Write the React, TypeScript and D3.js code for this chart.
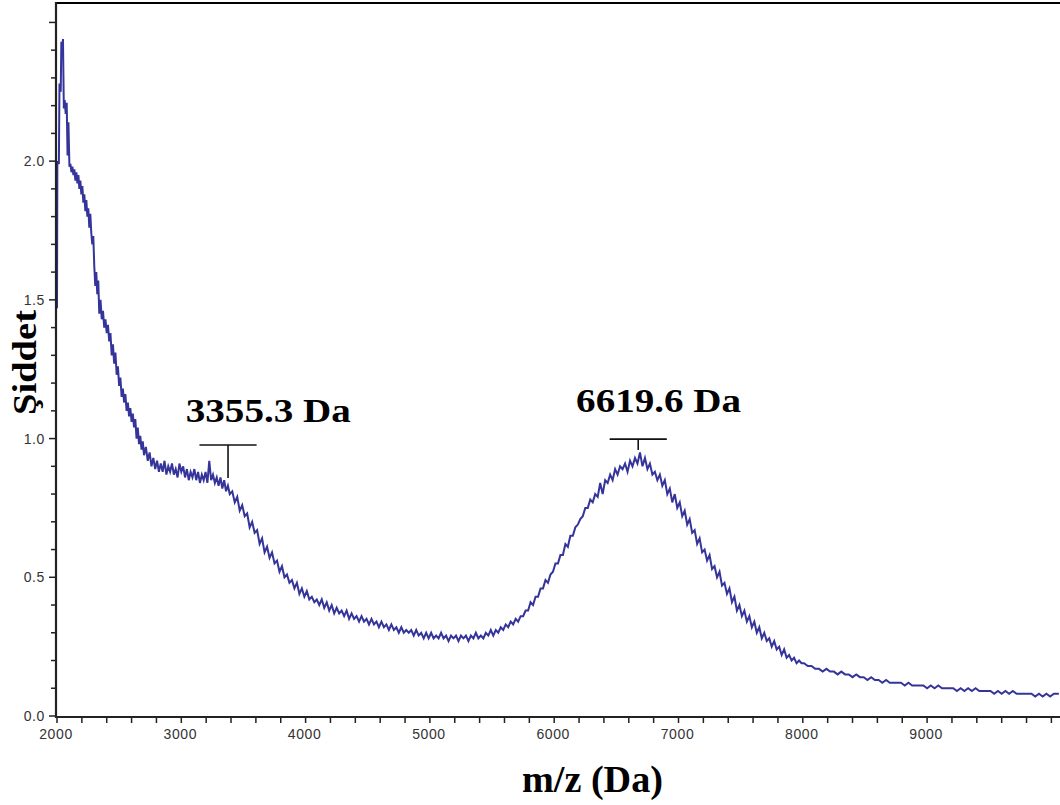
import React from "react";
import * as d3 from "d3";

// m/z (Da), intensity pairs
const spectrum: [number, number][] = [
  [2000, 1.47], [2003, 2.0], [2015, 1.99], [2020, 2.28], [2030, 2.25], [2035, 2.43], [2042, 2.4], [2048, 2.44],
  [2055, 2.19], [2062, 2.22], [2070, 2.17], [2078, 2.21], [2085, 2.02], [2092, 2.14], [2100, 1.98], [2108, 1.99],
  [2116, 1.96], [2124, 1.98], [2132, 1.95], [2140, 1.97], [2148, 1.93], [2156, 1.96], [2164, 1.92], [2172, 1.95],
  [2180, 1.9], [2188, 1.93], [2196, 1.88], [2204, 1.91], [2212, 1.85], [2220, 1.88], [2228, 1.82], [2236, 1.86],
  [2244, 1.8], [2252, 1.83], [2260, 1.76], [2268, 1.81], [2276, 1.74], [2284, 1.7], [2292, 1.73], [2300, 1.62],
  [2308, 1.55], [2316, 1.6], [2324, 1.52], [2332, 1.57], [2340, 1.45], [2350, 1.5], [2360, 1.43], [2370, 1.46],
  [2380, 1.4], [2390, 1.43], [2400, 1.38], [2410, 1.41], [2420, 1.35], [2430, 1.38], [2440, 1.3], [2450, 1.34],
  [2460, 1.27], [2470, 1.31], [2480, 1.23], [2490, 1.26], [2500, 1.19], [2510, 1.22], [2520, 1.15], [2530, 1.18],
  [2540, 1.13], [2550, 1.16], [2560, 1.1], [2570, 1.13], [2580, 1.08], [2590, 1.11], [2600, 1.06], [2610, 1.09],
  [2620, 1.04], [2630, 1.07], [2640, 1.0], [2650, 1.04], [2660, 0.98], [2670, 1.01], [2680, 0.96], [2690, 0.99],
  [2700, 0.94], [2715, 0.97], [2730, 0.92], [2745, 0.95], [2760, 0.9], [2775, 0.93], [2790, 0.89], [2805, 0.92],
  [2820, 0.88], [2835, 0.91], [2850, 0.88], [2865, 0.92], [2880, 0.87], [2895, 0.9], [2910, 0.88], [2925, 0.91],
  [2940, 0.87], [2955, 0.89], [2970, 0.86], [2985, 0.91], [3000, 0.88], [3015, 0.9], [3030, 0.86], [3045, 0.89],
  [3060, 0.85], [3075, 0.88], [3090, 0.86], [3105, 0.89], [3120, 0.85], [3135, 0.88], [3150, 0.84], [3165, 0.87],
  [3180, 0.85], [3195, 0.88], [3210, 0.84], [3225, 0.92], [3240, 0.85], [3255, 0.87], [3270, 0.84], [3285, 0.86],
  [3300, 0.83], [3315, 0.86], [3330, 0.82], [3345, 0.85], [3360, 0.81], [3375, 0.83], [3390, 0.8], [3410, 0.81],
  [3430, 0.77], [3450, 0.79], [3470, 0.74], [3490, 0.76], [3510, 0.72], [3530, 0.73], [3550, 0.68], [3570, 0.7],
  [3590, 0.66], [3610, 0.67], [3630, 0.62], [3650, 0.64], [3670, 0.59], [3690, 0.61], [3710, 0.57], [3730, 0.59],
  [3750, 0.55], [3770, 0.56], [3790, 0.52], [3810, 0.54], [3830, 0.5], [3850, 0.51], [3870, 0.48], [3890, 0.49],
  [3910, 0.46], [3930, 0.48], [3950, 0.44], [3970, 0.46], [3990, 0.43], [4010, 0.45], [4030, 0.42], [4050, 0.43],
  [4070, 0.41], [4090, 0.42], [4110, 0.4], [4130, 0.42], [4150, 0.39], [4170, 0.41], [4190, 0.38], [4210, 0.4],
  [4230, 0.37], [4250, 0.39], [4270, 0.37], [4290, 0.38], [4310, 0.36], [4330, 0.38], [4350, 0.35], [4370, 0.37],
  [4390, 0.35], [4410, 0.36], [4430, 0.34], [4450, 0.36], [4470, 0.34], [4490, 0.35], [4510, 0.33], [4530, 0.35],
  [4550, 0.33], [4570, 0.34], [4590, 0.32], [4610, 0.34], [4630, 0.32], [4650, 0.33], [4670, 0.31], [4690, 0.33],
  [4710, 0.31], [4730, 0.32], [4750, 0.3], [4770, 0.32], [4790, 0.3], [4810, 0.31], [4830, 0.3], [4850, 0.31],
  [4870, 0.29], [4890, 0.31], [4910, 0.29], [4930, 0.3], [4950, 0.28], [4970, 0.3], [4990, 0.28], [5010, 0.3],
  [5030, 0.28], [5050, 0.29], [5070, 0.28], [5090, 0.3], [5110, 0.28], [5130, 0.29], [5150, 0.27], [5170, 0.29],
  [5190, 0.28], [5210, 0.29], [5230, 0.27], [5250, 0.29], [5270, 0.28], [5290, 0.29], [5310, 0.27], [5330, 0.29],
  [5350, 0.28], [5370, 0.3], [5390, 0.28], [5410, 0.29], [5430, 0.28], [5450, 0.3], [5470, 0.29], [5490, 0.31],
  [5510, 0.29], [5530, 0.31], [5550, 0.3], [5570, 0.32], [5590, 0.31], [5610, 0.33], [5630, 0.32], [5650, 0.34],
  [5670, 0.33], [5690, 0.35], [5710, 0.34], [5730, 0.36], [5750, 0.36], [5770, 0.38], [5790, 0.38], [5810, 0.41],
  [5830, 0.4], [5850, 0.43], [5870, 0.43], [5890, 0.46], [5910, 0.46], [5930, 0.49], [5950, 0.48], [5970, 0.51],
  [5990, 0.52], [6010, 0.55], [6030, 0.55], [6050, 0.58], [6070, 0.58], [6090, 0.62], [6110, 0.61], [6130, 0.65],
  [6150, 0.65], [6170, 0.68], [6190, 0.69], [6210, 0.71], [6230, 0.72], [6250, 0.75], [6270, 0.75], [6290, 0.78],
  [6310, 0.77], [6330, 0.8], [6350, 0.79], [6370, 0.84], [6390, 0.8], [6410, 0.85], [6430, 0.84], [6450, 0.87],
  [6470, 0.85], [6490, 0.89], [6510, 0.87], [6530, 0.9], [6550, 0.89], [6570, 0.91], [6590, 0.88], [6610, 0.92],
  [6630, 0.9], [6650, 0.93], [6670, 0.91], [6690, 0.95], [6710, 0.9], [6730, 0.93], [6750, 0.89], [6770, 0.91],
  [6790, 0.87], [6810, 0.88], [6830, 0.85], [6850, 0.87], [6870, 0.83], [6890, 0.85], [6910, 0.8], [6930, 0.82],
  [6950, 0.77], [6970, 0.8], [6990, 0.75], [7010, 0.77], [7030, 0.72], [7050, 0.74], [7070, 0.69], [7090, 0.71],
  [7110, 0.66], [7130, 0.67], [7150, 0.62], [7170, 0.64], [7190, 0.59], [7210, 0.6], [7230, 0.56], [7250, 0.58],
  [7270, 0.53], [7290, 0.54], [7310, 0.5], [7330, 0.52], [7350, 0.47], [7370, 0.48], [7390, 0.44], [7410, 0.46],
  [7430, 0.41], [7450, 0.43], [7470, 0.38], [7490, 0.4], [7510, 0.36], [7530, 0.38], [7550, 0.34], [7570, 0.36],
  [7590, 0.32], [7610, 0.34], [7630, 0.3], [7650, 0.32], [7670, 0.28], [7690, 0.3], [7710, 0.27], [7730, 0.28],
  [7750, 0.25], [7770, 0.27], [7790, 0.24], [7810, 0.25], [7830, 0.22], [7850, 0.24], [7870, 0.21], [7890, 0.22],
  [7910, 0.2], [7930, 0.21], [7950, 0.19], [7970, 0.2], [7990, 0.19], [8010, 0.19], [8040, 0.18], [8070, 0.18],
  [8100, 0.17], [8130, 0.17], [8160, 0.16], [8190, 0.17], [8220, 0.16], [8250, 0.16], [8280, 0.15], [8310, 0.16],
  [8340, 0.15], [8370, 0.15], [8400, 0.14], [8430, 0.15], [8460, 0.14], [8490, 0.14], [8520, 0.13], [8550, 0.14],
  [8580, 0.13], [8610, 0.13], [8640, 0.12], [8670, 0.13], [8700, 0.12], [8730, 0.12], [8760, 0.12], [8790, 0.12],
  [8820, 0.11], [8850, 0.12], [8880, 0.11], [8910, 0.11], [8940, 0.11], [8970, 0.11], [9000, 0.1], [9030, 0.11],
  [9060, 0.1], [9090, 0.11], [9120, 0.1], [9150, 0.1], [9180, 0.1], [9210, 0.1], [9240, 0.09], [9270, 0.1],
  [9300, 0.09], [9330, 0.1], [9360, 0.09], [9390, 0.1], [9420, 0.09], [9450, 0.09], [9480, 0.09], [9510, 0.09],
  [9540, 0.08], [9570, 0.09], [9600, 0.08], [9630, 0.09], [9660, 0.08], [9690, 0.09], [9720, 0.08], [9750, 0.08],
  [9780, 0.08], [9810, 0.08], [9840, 0.08], [9870, 0.07], [9900, 0.08], [9930, 0.07], [9960, 0.08], [9990, 0.07],
  [10020, 0.08], [10060, 0.08],
];

const xTickValues = [2000, 3000, 4000, 5000, 6000, 7000, 8000, 9000];
const xTickLabels = ["2000", "3000", "4000", "5000", "6000", "7000", "8000", "9000"];
const yTickValues = [0, 0.5, 1.0, 1.5, 2.0];
const yTickLabels = ["0.0", "0.5", "1.0", "1.5", "2.0"];

// peak annotations (data units)
const peakLabels = ["3355.3 Da", "6619.6 Da"];
const markerMz = [3376, 6676];
const markerTop = [0.977, 0.998];
const markerBottom = [0.858, 0.959];
const labelMz = [3700, 6840];
const labelBase = [1.058, 1.094];

const xTitle = "m/z (Da)";
const yTitle = "Şiddet";

export default function App() {
  const W = 1060;
  const H = 805;
  const x = d3.scaleLinear().domain([2000, 10070]).range([57, 1060.1]);
  const y = d3.scaleLinear().domain([0, 2.57]).range([716, 3]);
  const line = d3
    .line<[number, number]>()
    .x((d) => x(d[0]))
    .y((d) => y(d[1]));

  const xMinor = d3.range(2000, 10001, 200);
  const yMinor = d3.range(0, 26).map((i) => i / 10);
  const halfW = 230;
  const serif = "'Liberation Serif', 'Times New Roman', serif";
  const sans = "'Liberation Sans', Arial, sans-serif";

  return (
    <svg
      width={W}
      height={H}
      style={{ position: "absolute", left: 0, top: 0, background: "#fff" }}
    >
      <defs>
        <clipPath id="plotclip">
          <rect x={57} y={3} width={1010} height={714} />
        </clipPath>
      </defs>
      <path
        d={line(spectrum) || ""}
        fill="none"
        stroke="#34349a"
        strokeWidth={2}
        strokeLinejoin="miter"
        clipPath="url(#plotclip)"
      />
      {/* frame */}
      <line x1={56} y1={3} x2={1070} y2={3} stroke="#000" strokeWidth={2.2} />
      <line x1={56} y1={2} x2={56} y2={718} stroke="#222" strokeWidth={2.2} />
      <line x1={55} y1={717} x2={1070} y2={717} stroke="#222" strokeWidth={2.2} />
      {/* x ticks */}
      {xMinor.map((v) => (
        <line key={"xm" + v} x1={x(v)} x2={x(v)} y1={717} y2={723} stroke="#222" strokeWidth={1.5} />
      ))}
      {xTickValues.map((v, i) => (
        <text
          key={"xl" + v}
          x={x(v) - 1}
          y={739}
          textAnchor="middle"
          fontFamily={sans}
          fontSize={14}
          letterSpacing={0.6}
          fill="#333"
        >
          {xTickLabels[i]}
        </text>
      ))}
      {/* y ticks */}
      {yMinor.map((v, i) => (
        <line
          key={"ym" + i}
          x1={i % 5 === 0 ? 49 : 51}
          x2={56}
          y1={y(v)}
          y2={y(v)}
          stroke="#222"
          strokeWidth={1.5}
        />
      ))}
      {yTickValues.map((v, i) => (
        <text
          key={"yl" + i}
          x={45}
          y={y(v) + 5}
          textAnchor="end"
          fontFamily={sans}
          fontSize={14}
          letterSpacing={0.6}
          fill="#333"
        >
          {yTickLabels[i]}
        </text>
      ))}
      {/* axis titles */}
      <text
        x={522}
        y={792}
        fontFamily={serif}
        fontWeight="bold"
        fontSize={37}
        textLength={141}
        lengthAdjust="spacingAndGlyphs"
        fill="#000"
      >
        {xTitle}
      </text>
      <text
        transform="translate(36,415) rotate(-90)"
        x={0}
        y={0}
        fontFamily={serif}
        fontWeight="bold"
        fontSize={33}
        textLength={105}
        lengthAdjust="spacingAndGlyphs"
        fill="#000"
      >
        {yTitle}
      </text>
      {/* peak annotations */}
      {peakLabels.map((lab, i) => (
        <g key={"pk" + i}>
          <line
            x1={x(markerMz[i] - halfW)}
            x2={x(markerMz[i] + halfW)}
            y1={y(markerTop[i])}
            y2={y(markerTop[i])}
            stroke="#111"
            strokeWidth={1.6}
          />
          <line
            x1={x(markerMz[i])}
            x2={x(markerMz[i])}
            y1={y(markerTop[i])}
            y2={y(markerBottom[i])}
            stroke="#111"
            strokeWidth={1.6}
          />
          <text
            x={x(labelMz[i])}
            y={y(labelBase[i])}
            textAnchor="middle"
            fontFamily={serif}
            fontWeight="bold"
            fontSize={33}
            textLength={165}
            lengthAdjust="spacingAndGlyphs"
            fill="#000"
          >
            {lab}
          </text>
        </g>
      ))}
    </svg>
  );
}
